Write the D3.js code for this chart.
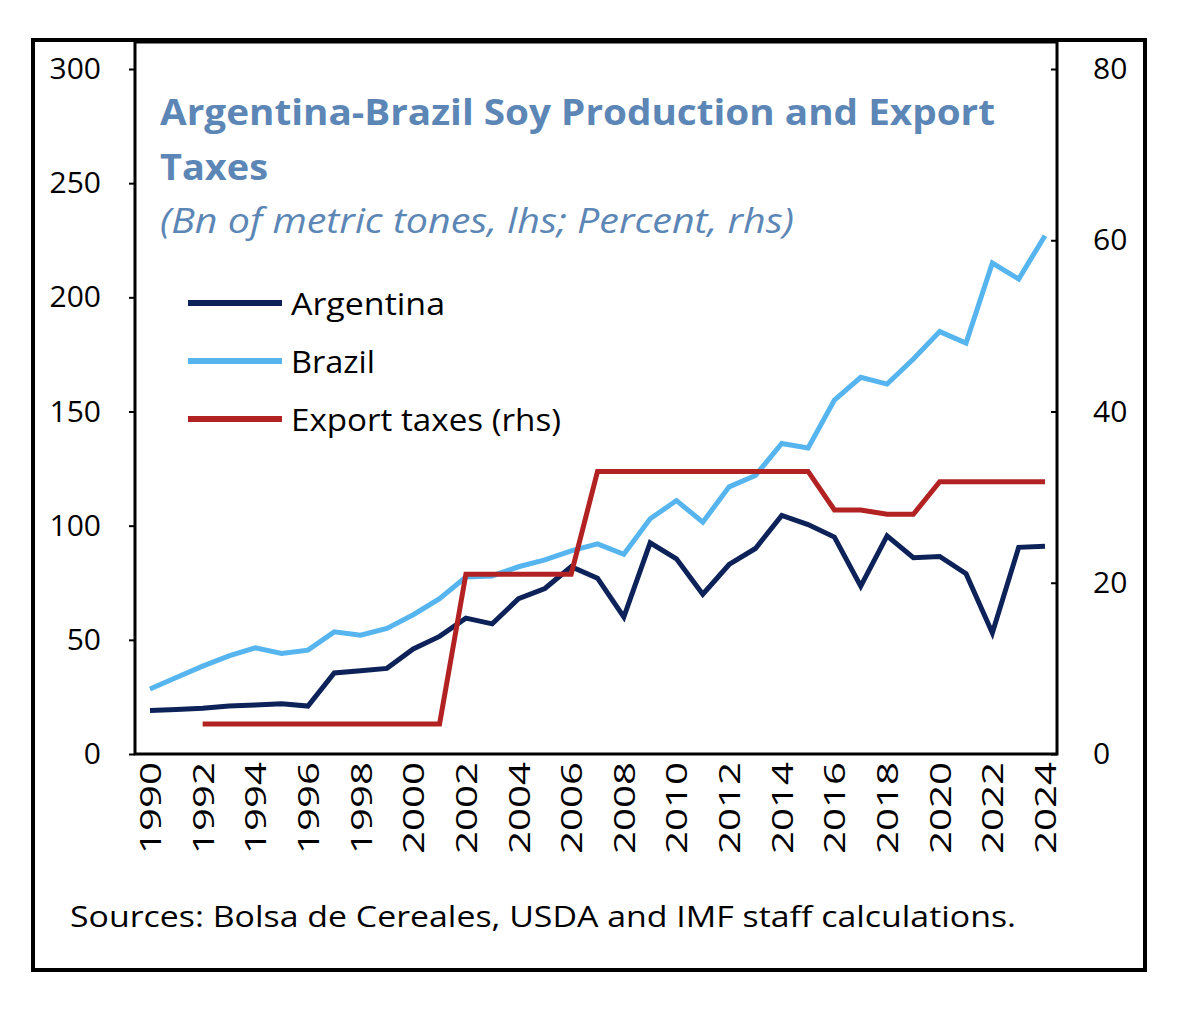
<!DOCTYPE html><html><head><meta charset="utf-8">
<script src="https://cdn.jsdelivr.net/npm/d3@7"></script>
<style>body{margin:0;background:#fff}text{font-family:"Open Sans",sans-serif}</style></head><body>
<svg id="c" width="1179" height="1017"></svg>
<script>
const years=d3.range(1990,2025);
const argentina=[19,19.5,20,21,21.5,22,21,35.5,36.5,37.5,46,51.5,59.5,57,68,72.5,82,77,60,92.5,85.5,70,83,90,104.5,100.5,95,73.5,95.5,86,86.5,79,53,90.5,91];
const brazil=[28.5,33.5,38.5,43,46.5,44,45.5,53.5,52,55,61,68,77.5,78,82,85,89,92,87.5,103,111,101.5,117,122,136,134,155,165,162,173,185,180,215,208,227];
const taxYears=[1992,2001,2002,2006,2007,2015,2016,2017,2018,2019,2020,2024];
const taxes=[3.5,3.5,21,21,33,33,28.5,28.5,28,28,31.8,31.8];
const leftTicks=[0,50,100,150,200,250,300];
const rightTicks=[0,20,40,60,80];
const svg=d3.select("#c");
svg.append("rect").attr("x",33).attr("y",40).attr("width",1112).attr("height",930).attr("fill","none").attr("stroke","#000").attr("stroke-width",4);
const x=d3.scaleLinear().domain([1990,2024]).range([150,1045]);
const yl=d3.scaleLinear().domain([0,300]).range([754,69]);
const yr=d3.scaleLinear().domain([0,80]).range([754,69]);
svg.append("rect").attr("x",135).attr("y",42).attr("width",922).attr("height",712).attr("fill","none").attr("stroke","#000").attr("stroke-width",3);
const la=svg.append("g").attr("transform","translate(135,0)").call(d3.axisLeft(yl).tickValues(leftTicks).tickSize(6));
la.select(".domain").remove();
la.selectAll("text").attr("font-size",30).attr("fill","#000").attr("text-anchor","end").attr("x",-34);
la.selectAll("line").attr("stroke","#000").attr("stroke-width",2);
const ra=svg.append("g").attr("transform","translate(1057,0)").call(d3.axisRight(yr).tickValues(rightTicks).tickSize(-6));
ra.select(".domain").remove();
ra.selectAll("text").attr("font-size",30).attr("fill","#000").attr("x",36);
ra.selectAll("line").attr("stroke","#000").attr("stroke-width",2);
const xa=svg.append("g").attr("transform","translate(0,754)").call(d3.axisBottom(x).tickValues(years.filter(y=>y%2==0)).tickFormat(d3.format("d")).tickSize(0));
xa.select(".domain").remove();
xa.selectAll("text").attr("font-size",30).attr("fill","#000").attr("transform","rotate(-90)").attr("text-anchor","end").attr("x",-8).attr("y",0).attr("dy","0.35em").attr("textLength",92).attr("lengthAdjust","spacingAndGlyphs");
const line=(ys,s)=>d3.line().x((d,i)=>x(ys[i])).y(d=>s(d));
svg.append("path").datum(brazil).attr("d",line(years,yl)).attr("fill","none").attr("stroke","#56b4ef").attr("stroke-width",5);
svg.append("path").datum(argentina).attr("d",line(years,yl)).attr("fill","none").attr("stroke","#0c2259").attr("stroke-width",5);
svg.append("path").datum(taxes).attr("d",line(taxYears,yr)).attr("fill","none").attr("stroke","#b22222").attr("stroke-width",5);
const t=(xx,yy,fs,s,len,o={})=>{const e=svg.append("text").attr("x",xx).attr("y",yy).attr("font-size",fs).attr("fill",o.fill||"#000").attr("textLength",len).attr("lengthAdjust","spacingAndGlyphs").text(s);if(o.bold)e.attr("font-weight","bold");if(o.it)e.attr("font-style","italic");};
t(160,125,35,"Argentina-Brazil Soy Production and Export",835,{fill:"#5b86b5",bold:1});
t(160,180,35,"Taxes",108,{fill:"#5b86b5",bold:1});
t(160,233,34,"(Bn of metric tones, lhs; Percent, rhs)",634,{fill:"#5b86b5",it:1});
const leg=[["Argentina","#0c2259",154],["Brazil","#56b4ef",84],["Export taxes (rhs)","#b22222",270]];
leg.forEach((l,i)=>{const y=303+i*58;
svg.append("line").attr("x1",188).attr("x2",282).attr("y1",y).attr("y2",y).attr("stroke",l[1]).attr("stroke-width",6);
t(291,y+12,31,l[0],l[2]);});
t(70,927,29,"Sources: Bolsa de Cereales, USDA and IMF staff calculations.",946);
</script></body></html>
